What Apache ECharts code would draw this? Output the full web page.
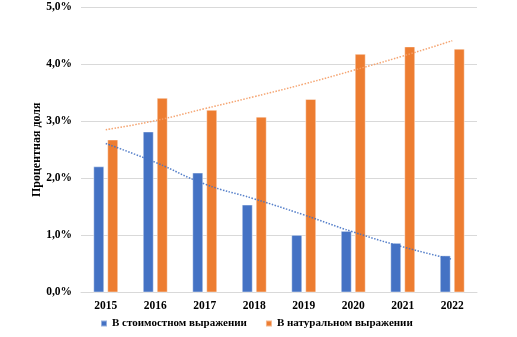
<!DOCTYPE html>
<html>
<head>
<meta charset="utf-8">
<script src="https://cdn.jsdelivr.net/npm/echarts@6/dist/echarts.min.js"></script>
<style>html,body{margin:0;padding:0;background:#fff}#c{width:517px;height:337px}</style>
</head>
<body>
<div id="c"></div>
<script>
const categories = ['2015','2016','2017','2018','2019','2020','2021','2022'];
const valueShare = [2.21, 2.82, 2.10, 1.54, 1.01, 1.08, 0.87, 0.65];
const volumeShare = [2.68, 3.41, 3.20, 3.08, 3.39, 4.18, 4.31, 4.27];
const valueTrend = [2.61, 2.28, 1.90, 1.64, 1.36, 1.06, 0.80, 0.58];
const volumeTrend = [2.85, 3.01, 3.22, 3.43, 3.65, 3.89, 4.14, 4.41];
const seriesNames = ['В стоимостном выражении', 'В натуральном выражении'];
const yAxisName = 'Процентная доля';

const font = 'Liberation Serif, Times New Roman, serif';
const chart = echarts.init(document.getElementById('c'));
chart.setOption({
  animation: false,
  grid: {left: 81, right: 40, top: 7, bottom: 44.5},
  legend: {
    data: seriesNames,
    bottom: 3,
    left: 95,
    icon: 'rect',
    itemWidth: 6, itemHeight: 6,
    itemGap: 18,
    textStyle: {fontFamily: font, fontWeight: 'bold', fontSize: 11, color: '#000'}
  },
  xAxis: {
    type: 'category',
    data: categories,
    axisTick: {show: false},
    axisLine: {lineStyle: {color: '#d9d9d9', width: 1}},
    axisLabel: {fontFamily: font, fontWeight: 'bold', fontSize: 11.5, color: '#000', margin: 8}
  },
  yAxis: {
    type: 'value',
    min: 0, max: 5, interval: 1,
    name: yAxisName,
    nameLocation: 'middle',
    nameGap: 38,
    nameMoveOverlap: false,
    nameTextStyle: {fontFamily: font, fontWeight: 'bold', fontSize: 12, color: '#000'},
    axisLabel: {fontFamily: font, fontWeight: 'bold', fontSize: 11.5, color: '#000', margin: 9,
      formatter: v => v.toFixed(1).replace('.', ',') + '%'},
    splitLine: {lineStyle: {color: '#d9d9d9', width: 1}}
  },
  series: [
    {name: seriesNames[0], type: 'bar', data: valueShare, barWidth: 11, barGap: '27%', barCategoryGap: '50%',
     itemStyle: {color: '#4472c4', borderColor: 'rgba(255,255,255,0.45)', borderWidth: 1}},
    {name: seriesNames[1], type: 'bar', data: volumeShare, barWidth: 11,
     itemStyle: {color: '#ed7d31', borderColor: 'rgba(255,255,255,0.45)', borderWidth: 1}},
    {type: 'line', data: valueTrend, smooth: true, symbol: 'none', silent: true, z: 5,
     lineStyle: {color: '#4472c4', width: 1.5, type: [1.5, 1.5], opacity: 0.9}},
    {type: 'line', data: volumeTrend, smooth: true, symbol: 'none', silent: true, z: 5,
     lineStyle: {color: '#f4a06a', width: 1.5, type: [1.5, 1.5], opacity: 0.95}}
  ]
});
</script>
</body>
</html>
